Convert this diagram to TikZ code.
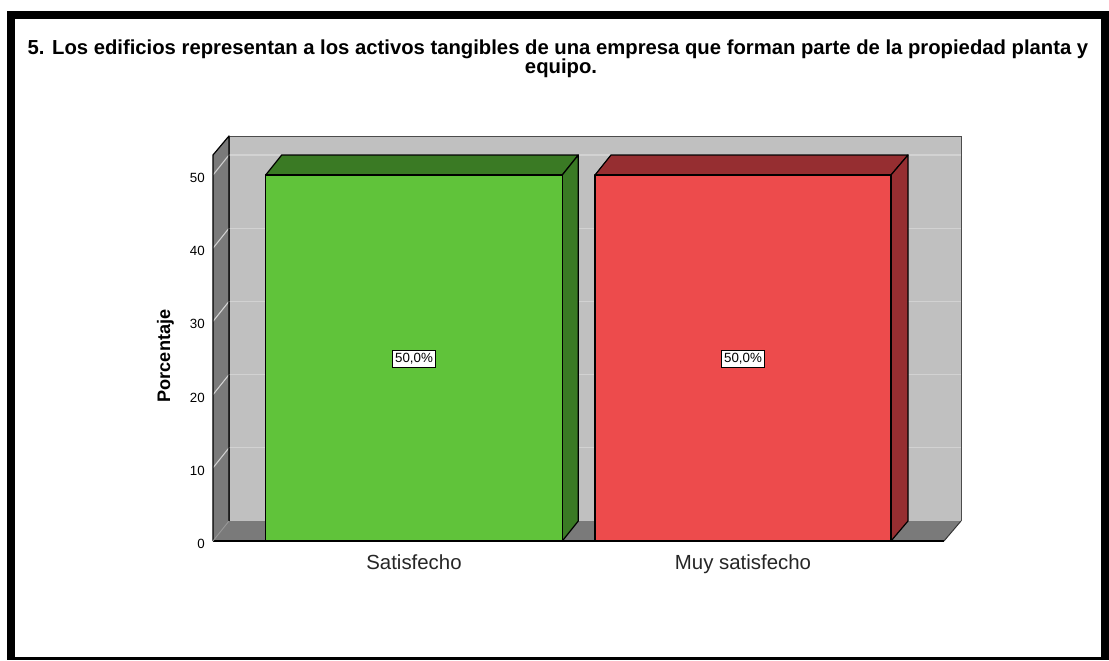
\documentclass[tikz,border=0pt]{standalone}
\usepackage{fontspec}
\setmainfont{Liberation Sans}
\definecolor{backwall}{RGB}{192,192,192}
\definecolor{sidewall}{RGB}{122,122,122}
\definecolor{gridc}{RGB}{210,210,210}
\definecolor{gfront}{RGB}{96,195,58}
\definecolor{gdark}{RGB}{58,122,36}
\definecolor{rfront}{RGB}{237,75,76}
\definecolor{rdark}{RGB}{150,46,49}
\tikzset{
  edge/.style={draw=black, line width=0.9pt, line join=round},
  gridline/.style={draw=gridc, line width=0.8pt},
  ticklab/.style={font=\fontsize{10pt}{12pt}\selectfont, anchor=east, inner sep=0pt},
  catlab/.style={font=\fontsize{15.3pt}{18pt}\selectfont, anchor=base, inner sep=0pt, text=black!85},
  vallab/.style={font=\fontsize{10pt}{12pt}\selectfont, draw=black, line width=0.8pt, fill=white, inner sep=2.2pt},
  titlelab/.style={font=\bfseries\fontsize{15.2pt}{18pt}\selectfont, anchor=base, inner sep=0pt}
}
\begin{document}
\begin{tikzpicture}[x=0.75pt,y=-0.75pt]
\useasboundingbox (0,0) rectangle (1109,660);
% frame
\fill[black] (7,11) rectangle (1109,660);
\fill[white] (15,19) rectangle (1101,657);
% title
\node[titlelab] (t1) at (558,55) {5. Los edificios representan a los activos tangibles de una empresa que forman parte de la propiedad planta y};
\node[titlelab] (t2) at (561,74) {equipo.};
% back wall
\fill[backwall] (229,136) rectangle (961,521);
\draw[draw=black!70, line width=0.7pt] (229,521) -- (229,136) -- (961,136) -- (961,521);
% left wall
\fill[sidewall] (213,155) -- (229,136) -- (229,521) -- (213,541) -- cycle;
% floor
\fill[sidewall] (213,541) -- (229,521) -- (961,521) -- (944,541) -- cycle;
% gridlines
\foreach \v in {10,20,30,40,50} {
  \draw[gridline] (229,{521-7.32*\v}) -- (961,{521-7.32*\v});
  \draw[gridline] (213,{541-7.32*\v}) -- (229,{521-7.32*\v});
}
\draw[edge] (213,541) -- (213,155) -- (229,136) -- (229,521);
\draw[edge] (213,541) -- (944,541);
\draw[draw=black!80, line width=0.7pt] (944,541) -- (961,521);
\draw[draw=black!40, line width=0.6pt] (213,541) -- (229,521);
% tick labels
\foreach \v in {0,10,20,30,40,50} {
  \node[ticklab] (tick\v) at (205,{544-7.32*\v}) {\v};
}
% green bar
\filldraw[fill=gdark, edge] (265.7,175) -- (281.7,155) -- (578.3,155) -- (562.3,175) -- cycle;
\filldraw[fill=gdark, edge] (562.3,175) -- (578.3,155) -- (578.3,521) -- (562.3,541) -- cycle;
\filldraw[fill=gfront, edge] (265.7,175) rectangle (562.3,541);
% red bar
\filldraw[fill=rdark, edge] (595,175) -- (611,155) -- (908,155) -- (891,175) -- cycle;
\filldraw[fill=rdark, edge] (891,175) -- (908,155) -- (908,521) -- (891,541) -- cycle;
\filldraw[fill=rfront, edge] (595,175) rectangle (891,541);
% value labels
\node[vallab] (v1) at (414,359) {50,0\%};
\node[vallab] (v2) at (743,359) {50,0\%};
% category labels
\node[catlab] (c1) at (414,569) {Satisfecho};
\node[catlab] (c2) at (743,569) {Muy satisfecho};
% axis title
\node[font=\bfseries\fontsize{13.6pt}{16pt}\selectfont, rotate=90, inner sep=0pt] (ylab) at (165.5,356) {Porcentaje};
\end{tikzpicture}
\end{document}
